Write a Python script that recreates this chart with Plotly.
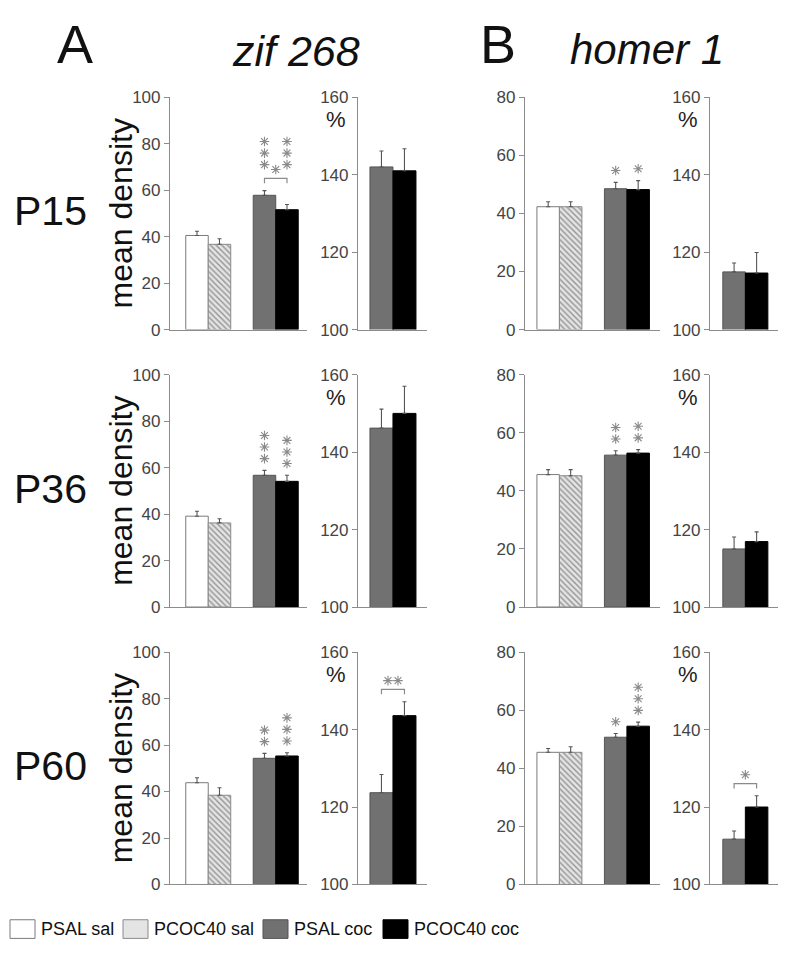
import plotly.graph_objects as go

# ---------------- data ----------------
groups = ["PSAL sal", "PCOC40 sal", "PSAL coc", "PCOC40 coc"]
ages = ["P15", "P36", "P60"]

# zif 268 mean density (4 groups) and SEM
zif_p15 = [40.5, 36.7, 57.8, 51.6]
zif_p15_sem = [1.8, 2.4, 2.0, 2.2]
zif_p36 = [39.1, 36.2, 56.7, 54.1]
zif_p36_sem = [2.1, 1.8, 2.1, 2.6]
zif_p60 = [43.8, 38.4, 54.3, 55.3]
zif_p60_sem = [2.1, 3.2, 2.1, 1.4]

# zif 268 cocaine as % of saline (PSAL coc, PCOC40 coc)
zif_pct_p15 = [142.0, 141.0]
zif_pct_p15_sem = [4.1, 5.7]
zif_pct_p36 = [146.2, 150.0]
zif_pct_p36_sem = [4.9, 7.0]
zif_pct_p60 = [123.7, 143.6]
zif_pct_p60_sem = [4.7, 3.6]

# homer 1 mean density
homer_p15 = [42.3, 42.3, 48.5, 48.2]
homer_p15_sem = [1.7, 1.7, 2.2, 3.1]
homer_p36 = [45.6, 45.2, 52.3, 53.0]
homer_p36_sem = [1.7, 2.1, 1.5, 1.2]
homer_p60 = [45.5, 45.5, 50.7, 54.5]
homer_p60_sem = [1.3, 1.9, 1.3, 1.4]

# homer 1 % of saline
homer_pct_p15 = [114.9, 114.6]
homer_pct_p15_sem = [2.3, 5.3]
homer_pct_p36 = [115.0, 116.9]
homer_pct_p36_sem = [3.1, 2.5]
homer_pct_p60 = [111.7, 120.0]
homer_pct_p60_sem = [2.1, 2.9]

# significance stars vs saline, per bar
zif_stars = [[0, 0, 3, 3], [0, 0, 3, 3], [0, 0, 2, 3]]
homer_stars = [[0, 0, 1, 1], [0, 0, 2, 2], [0, 0, 1, 3]]
# bracketed comparison PSAL coc vs PCOC40 coc, per age (number of stars)
zif_bracket = [1, 0, 0]
zif_pct_bracket = [0, 0, 2]
homer_bracket = [0, 0, 0]
homer_pct_bracket = [0, 0, 1]

# ---------------- layout geometry ----------------
W, H = 800, 968
FONT = "Liberation Sans, Arial, Helvetica, sans-serif"


def px(xp):
    return xp / W


def py(yp):
    return 1 - yp / H


col_x = [(170, 307), (358, 427), (525, 660), (710, 778)]
row_y = [(90, 327), (373, 610), (656, 893)]
y_ranges = [[0, 100], [100, 160], [0, 80], [100, 160]]
y_ticks = [list(range(0, 101, 20)), [100, 120, 140, 160],
           list(range(0, 81, 20)), [100, 120, 140, 160]]
x_ranges = [[0, 6.09], [0, 3.0], [0, 6.0], [0, 3.02]]
x_pos = [[1.2, 2.2, 4.2, 5.2], [1.02, 2.02], [1.03, 2.03, 4.03, 5.03], [1.07, 2.07]]

fills = ["#ffffff", "#e4e4e4", "#717171", "#000000"]
outlines = ["#7a7a7a", "#8a8a8a", "#555555", "#000000"]
patterns = ["", "\\", "", ""]
STAR_COLOR = "#8a8a8a"
AXIS_COLOR = "#8c8c8c"

dens_data = {
    0: [(zif_p15, zif_p15_sem), (zif_p36, zif_p36_sem), (zif_p60, zif_p60_sem)],
    2: [(homer_p15, homer_p15_sem), (homer_p36, homer_p36_sem), (homer_p60, homer_p60_sem)],
}
pct_data = {
    1: [(zif_pct_p15, zif_pct_p15_sem), (zif_pct_p36, zif_pct_p36_sem), (zif_pct_p60, zif_pct_p60_sem)],
    3: [(homer_pct_p15, homer_pct_p15_sem), (homer_pct_p36, homer_pct_p36_sem), (homer_pct_p60, homer_pct_p60_sem)],
}
stars_of = {0: zif_stars, 2: homer_stars}
bracket_of = {0: zif_bracket, 1: zif_pct_bracket, 2: homer_bracket, 3: homer_pct_bracket}

fig = go.Figure()
layout = dict(
    width=W, height=H, margin=dict(l=0, r=0, t=0, b=0, pad=0),
    paper_bgcolor="white", plot_bgcolor="white", showlegend=False,
    font=dict(family=FONT, color="#222"),
)
annotations = []
shapes = []

STAR_GAP = 12      # px between error-bar top and first star
STAR_STEP = 11.8   # px between stacked stars

for r in range(3):
    for c in range(4):
        idx = r * 4 + c + 1
        xa = "xaxis" if idx == 1 else f"xaxis{idx}"
        ya = "yaxis" if idx == 1 else f"yaxis{idx}"
        xr = "x" if idx == 1 else f"x{idx}"
        yr = "y" if idx == 1 else f"y{idx}"
        x0, x1 = col_x[c]
        ytop, ybot = row_y[r]
        layout[xa] = dict(domain=[px(x0), px(x1)], range=x_ranges[c], anchor=yr,
                          showline=True, linecolor=AXIS_COLOR, linewidth=1.2,
                          showticklabels=False, ticks="", showgrid=False,
                          zeroline=False, fixedrange=True)
        layout[ya] = dict(domain=[py(ybot), py(ytop)], range=y_ranges[c], anchor=xr,
                          showline=True, linecolor=AXIS_COLOR, linewidth=1.2,
                          ticks="outside", ticklen=5, tickcolor=AXIS_COLOR, tickwidth=1.2,
                          tickvals=y_ticks[c], showgrid=False, zeroline=False,
                          tickfont=dict(family=FONT, size=17, color="#444"),
                          fixedrange=True)

        if c in dens_data:
            vals, sem = dens_data[c][r]
            f, o, p = fills, outlines, patterns
        else:
            vals, sem = pct_data[c][r]
            f, o, p = fills[2:], outlines[2:], patterns[2:]
        pos = x_pos[c]
        fig.add_trace(go.Bar(
            x=pos, y=vals, width=1, xaxis=xr, yaxis=yr,
            marker=dict(color=f, line=dict(color=o, width=1),
                        pattern=dict(shape=p, fgcolor="#a8a8a8", size=4, solidity=0.35)),
            error_y=dict(type="data", symmetric=False, array=sem,
                         arrayminus=[0] * len(sem), color="#555", thickness=1.1, width=2),
            hoverinfo="skip"))

        span = y_ranges[c][1] - y_ranges[c][0]
        ppu = (ybot - ytop) / span  # pixels per y unit
        ppx = (x1 - x0) / (x_ranges[c][1] - x_ranges[c][0])  # pixels per x unit
        tops = [v + s for v, s in zip(vals, sem)]

        sx, sy = [], []
        nb = bracket_of[c][r]
        bracket_y = None
        if nb:
            xa_, xb_ = pos[-2], pos[-1]
            bracket_y = max(tops[-2:]) + 12.5 / ppu
            tick = 5 / ppu
            shapes.append(dict(
                type="path", xref=xr, yref=yr,
                path=(f"M {xa_},{bracket_y - tick} L {xa_},{bracket_y} "
                      f"L {xb_},{bracket_y} L {xb_},{bracket_y - tick}"),
                line=dict(color=STAR_COLOR, width=1.2)))
            xm = (xa_ + xb_) / 2
            for k in range(nb):
                sx.append(xm + (k - (nb - 1) / 2) * 10 / ppx)
                sy.append(bracket_y + 9 / ppu)

        if c in stars_of:
            for i, n in enumerate(stars_of[c][r]):
                for k in range(n):
                    sx.append(pos[i])
                    if bracket_y is not None:
                        sy.append(bracket_y + (14 + k * STAR_STEP) / ppu)
                    else:
                        sy.append(tops[i] + (STAR_GAP + k * STAR_STEP) / ppu)
        if sx:
            fig.add_trace(go.Scatter(
                x=sx, y=sy, xaxis=xr, yaxis=yr, mode="markers",
                marker=dict(symbol="asterisk-open", size=8, color=STAR_COLOR,
                            line=dict(color=STAR_COLOR, width=1.1)),
                hoverinfo="skip", cliponaxis=False))

        # % label on the percentage panels
        if c in pct_data:
            annotations.append(dict(
                xref="paper", yref="paper", x=px(x0 - 22), y=py(ytop + 23),
                text="%", showarrow=False, xanchor="center", yanchor="middle",
                font=dict(family=FONT, size=22, color="#222")))

    # row label and y title
    yc = (row_y[r][0] + row_y[r][1]) / 2
    annotations.append(dict(xref="paper", yref="paper", x=px(50), y=py(yc - 2), text=ages[r],
                            showarrow=False, xanchor="center", yanchor="middle",
                            font=dict(family=FONT, size=41, color="#111")))
    annotations.append(dict(xref="paper", yref="paper", x=px(121), y=py(yc), text="mean density",
                            textangle=-90, showarrow=False, xanchor="center", yanchor="middle",
                            font=dict(family=FONT, size=32, color="#111")))

# headers
for txt, xc, yc, size in [("A", 75, 36, 54), ("<i>zif 268</i>", 296, 43, 43),
                          ("B", 498, 36, 54), ("<i>homer 1</i>", 647, 41, 42)]:
    annotations.append(dict(xref="paper", yref="paper", x=px(xc), y=py(yc), text=txt,
                            showarrow=False, xanchor="center", yanchor="middle",
                            font=dict(family=FONT, size=size, color="#111")))

# legend
leg_x = [10, 123, 263, 383]
for i, g in enumerate(groups):
    shapes.append(dict(type="rect", xref="paper", yref="paper",
                       x0=px(leg_x[i]), x1=px(leg_x[i] + 25), y0=py(948), y1=py(929),
                       fillcolor=fills[i], line=dict(color=outlines[i], width=1)))
    annotations.append(dict(xref="paper", yref="paper", x=px(leg_x[i] + 29), y=py(938.5),
                            text=g, showarrow=False, xanchor="left", yanchor="middle",
                            font=dict(family=FONT, size=18, color="#111")))

layout["annotations"] = annotations
layout["shapes"] = shapes
fig.update_layout(**layout)
fig.write_html("out.html", config={"displayModeBar": False},
               post_script="document.body.style.margin='0';document.body.style.padding='0';")
